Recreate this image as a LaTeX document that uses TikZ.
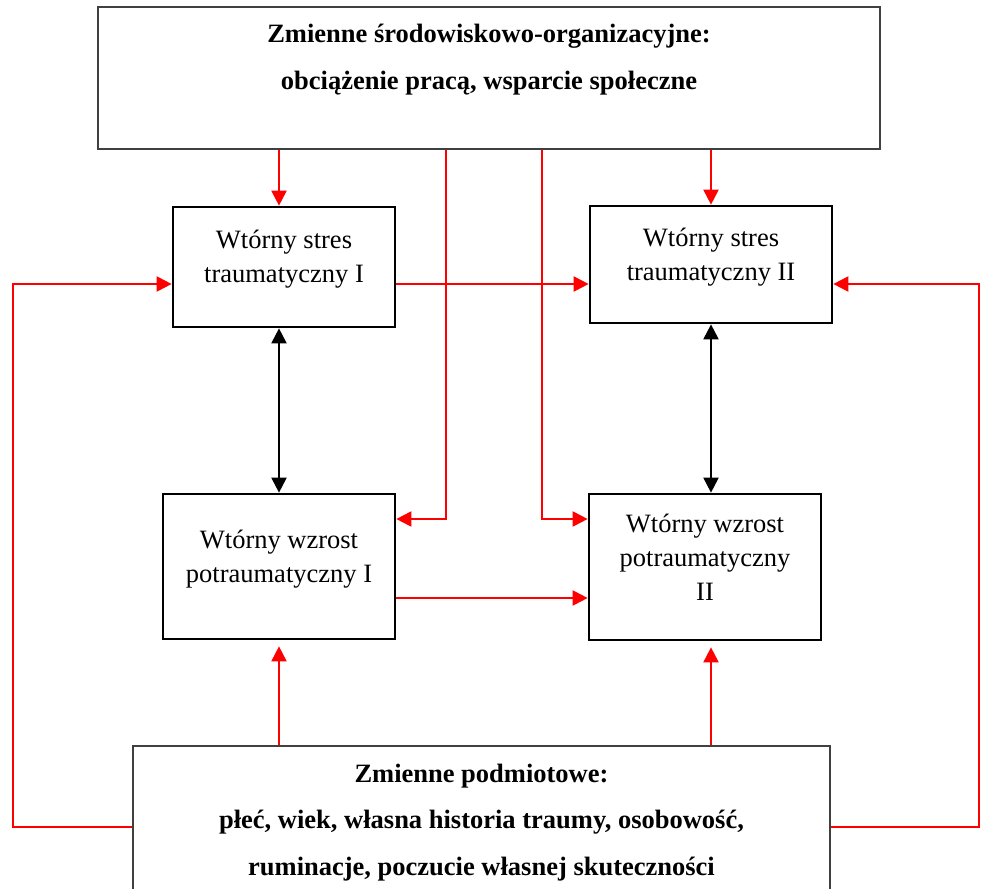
\documentclass[tikz,border=0pt]{standalone}
\usepackage{fontspec}
\setmainfont{Liberation Serif}
\usetikzlibrary{arrows.meta}
% centred block of lines whose baseline is that of the first line
\newcommand\linesof[1]{\begin{tabular}[t]{@{}c@{}}#1\end{tabular}}
\begin{document}
\begin{tikzpicture}[x=1pt,y=-1pt,
  bigbox/.style={draw=black!75, line width=1.3pt, inner sep=0pt},
  smallbox/.style={draw=black, line width=2.7pt, inner sep=0pt},
  lbl/.style={anchor=base, inner sep=0pt, font=\fontsize{26.5}{34}\selectfont},
  hdr/.style={anchor=base, inner sep=0pt, font=\bfseries\fontsize{26.5}{46.5}\selectfont},
  tip/.style={Triangle[length=15pt,width=15pt]},
  link/.style={draw=red, line width=2pt, -{Triangle[length=15pt,width=15pt]}},
  duo/.style={draw=black, line width=2pt, {Triangle[length=15pt,width=15pt]}-{Triangle[length=15pt,width=15pt]}}]

  \fill[white] (0,0) rectangle (981,888);
  \clip (0,0) rectangle (981,888);

  % boxes
  \node[bigbox, minimum width=782pt, minimum height=142pt] (top) at (489,78) {};
  \node[smallbox, minimum width=222pt, minimum height=120pt] (s1) at (284,267) {};
  \node[smallbox, minimum width=242pt, minimum height=117pt] (s2) at (711,264.5) {};
  \node[smallbox, minimum width=232pt, minimum height=145pt] (w1) at (279,566.5) {};
  \node[smallbox, minimum width=232pt, minimum height=146pt] (w2) at (705,567) {};
  \node[bigbox, minimum width=697pt, minimum height=162pt] (bot) at (481.5,827) {};

  % texts
  \node[hdr] (toptext) at (489,43) {\linesof{Zmienne środowiskowo-organizacyjne:\\obciążenie pracą, wsparcie społeczne}};
  \node[hdr] (bottext) at (481.5,782) {\linesof{Zmienne podmiotowe:\\płeć, wiek, własna historia traumy, osobowość,\\ruminacje, poczucie własnej skuteczności}};
  \node[lbl] (s1text) at (284,248) {\linesof{Wtórny stres\\traumatyczny I}};
  \node[lbl] (s2text) at (711,246) {\linesof{Wtórny stres\\traumatyczny II}};
  \node[lbl] (w1text) at (279,548) {\linesof{Wtórny wzrost\\potraumatyczny I}};
  \node[lbl] (w2text) at (705,532) {\linesof{Wtórny wzrost\\potraumatyczny\\II}};

  % bend points of the connectors
  \coordinate (c1) at (446,519);
  \coordinate (c2) at (542,519);
  \coordinate (lt) at (13,284);
  \coordinate (lc) at (13,827);
  \coordinate (rt) at (979,284);
  \coordinate (rc) at (979,827);
  \coordinate (mid) at (490,598);

  % environmental variables
  \draw[link] (top.south -| w1.north) -- (s1.north -| w1.north);
  \draw[link] (top.south -| s2.north) -- (s2.north);
  \draw[link] (top.south -| c1) -- (c1) -- (c1 -| w1.east);
  \draw[link] (top.south -| c2) -- (c2) -- (c2 -| w2.west);

  % stress I -> II, growth I -> II
  \draw[link] (lt -| s1.east) -- (lt -| s2.west);
  \draw[link] (mid -| w1.east) -- (mid -| w2.west);

  % stress <-> growth
  \draw[duo] (s1.south -| w1.north) -- (w1.north);
  \draw[duo] (s2.south) -- (s2.south |- w2.north);

  % individual variables
  \draw[link, shorten >=6pt] (bot.north -| w1.south) -- (w1.south);
  \draw[link, shorten >=6pt] (bot.north -| s2.south) -- (s2.south |- w2.south);
  \draw[link] (bot.west) -- (lc) -- (lt) -- (lt -| s1.west);
  \draw[link] (bot.east) -- (rc) -- (rt) -- (rt -| s2.east);
\end{tikzpicture}
\end{document}
